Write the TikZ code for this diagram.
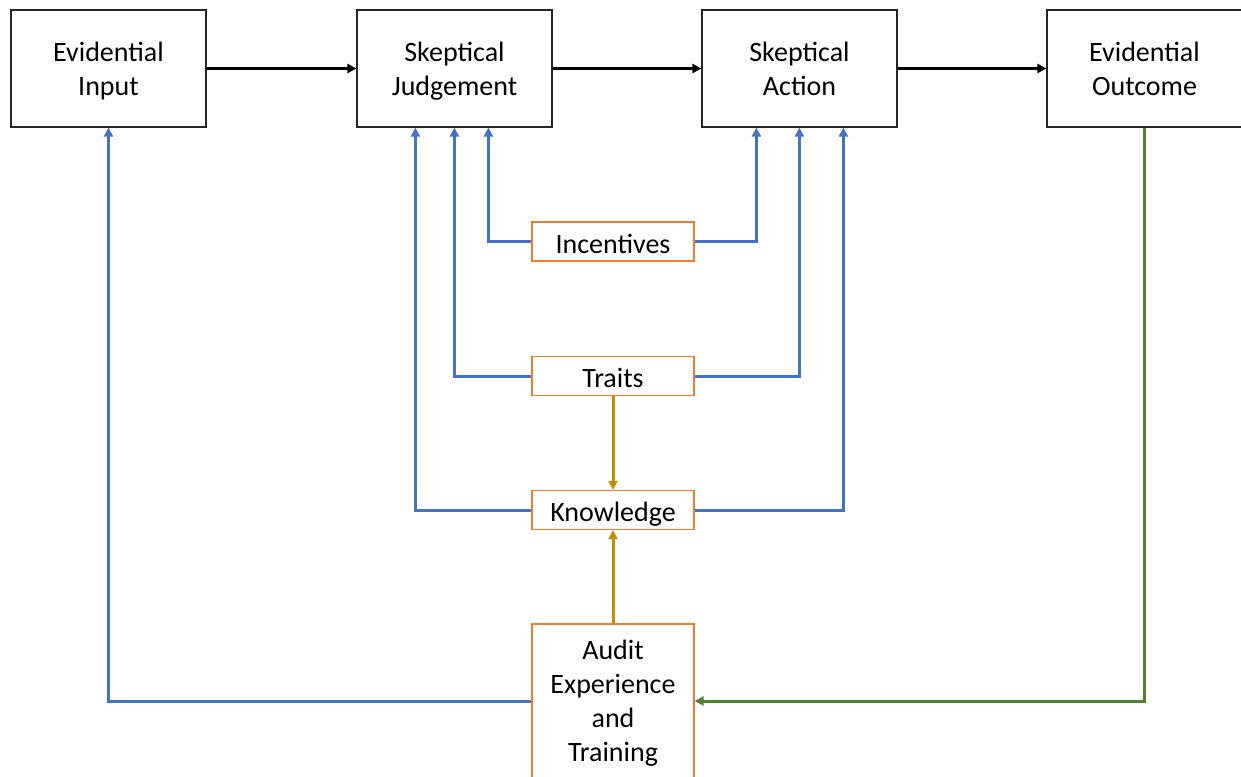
\documentclass[tikz,border=0pt]{standalone}
\usepackage{fontspec}
\setmainfont{Carlito}
\usetikzlibrary{arrows.meta,calc}
\definecolor{linkblue}{HTML}{4472C4}
\definecolor{factororange}{HTML}{ED7D31}
\definecolor{flowgold}{HTML}{BF9000}
\definecolor{loopgreen}{HTML}{548235}
\tikzset{
  label text/.style={align=center, inner sep=0pt, font=\fontsize{14}{17}\selectfont,
    execute at begin node=\strut, text depth=0pt},
  stage/.style={label text, draw=black!85, line width=0.6pt, minimum width=97.5pt, minimum height=58.5pt},
  factor/.style={label text, draw=factororange, line width=0.6pt, minimum width=81pt, minimum height=19.5pt},
  tip/.style={-{Triangle[length=4.5pt,width=4.5pt]}},
  mainflow/.style={tip, line width=1.4pt, black},
  influence/.style={tip, line width=1.5pt, linkblue},
  develop/.style={tip, line width=1.5pt, flowgold},
  feedback/.style={tip, line width=1.5pt, loopgreen}
}
\begin{document}
\begin{tikzpicture}[x=0.5pt,y=-0.5pt]
\useasboundingbox (0,0) rectangle (1241,776);
\fill[white] (0,0) rectangle (1241,776);
% process stages
\node[stage] (in)  at (108.5,68.5) {Evidential\\Input};
\node[stage] (jud) at (454.5,68.5) {Skeptical\\Judgement};
\node[stage] (act) at (799.5,68.5) {Skeptical\\Action};
\node[stage] (out) at (1144.5,68.5) {Evidential\\Outcome};
% influencing factors
\node[factor] (inc) at (613,241.5) {Incentives};
\node[factor] (tr)  at (613,376) {Traits};
\node[factor] (kn)  at (613,510) {Knowledge};
\node[factor, minimum height=77pt] (aud) at (613,701) {Audit\\Experience\\and\\Training};
% main flow
\draw[mainflow] (in.east) -- (jud.west);
\draw[mainflow] (jud.east) -- (act.west);
\draw[mainflow] (act.east) -- (out.west);
% factor links into judgement and action
\draw[influence] (inc.west) -| ($(jud.south west)+(132,0)$);
\draw[influence] (inc.east) -| ($(act.south west)+(55,0)$);
\draw[influence] (tr.west) -| ($(jud.south west)+(98,0)$);
\draw[influence] (tr.east) -| ($(act.south west)+(98,0)$);
\draw[influence] (kn.west) -| ($(jud.south west)+(59,0)$);
\draw[influence] (kn.east) -| ($(act.south west)+(142,0)$);
\draw[influence] (aud.west) -| (in.south);
% development of knowledge
\draw[develop] (tr.south) -- (kn.north);
\draw[develop] (aud.north) -- (kn.south);
% feedback from outcome
\draw[feedback] (out.south) |- (aud.east);
\end{tikzpicture}
\end{document}
